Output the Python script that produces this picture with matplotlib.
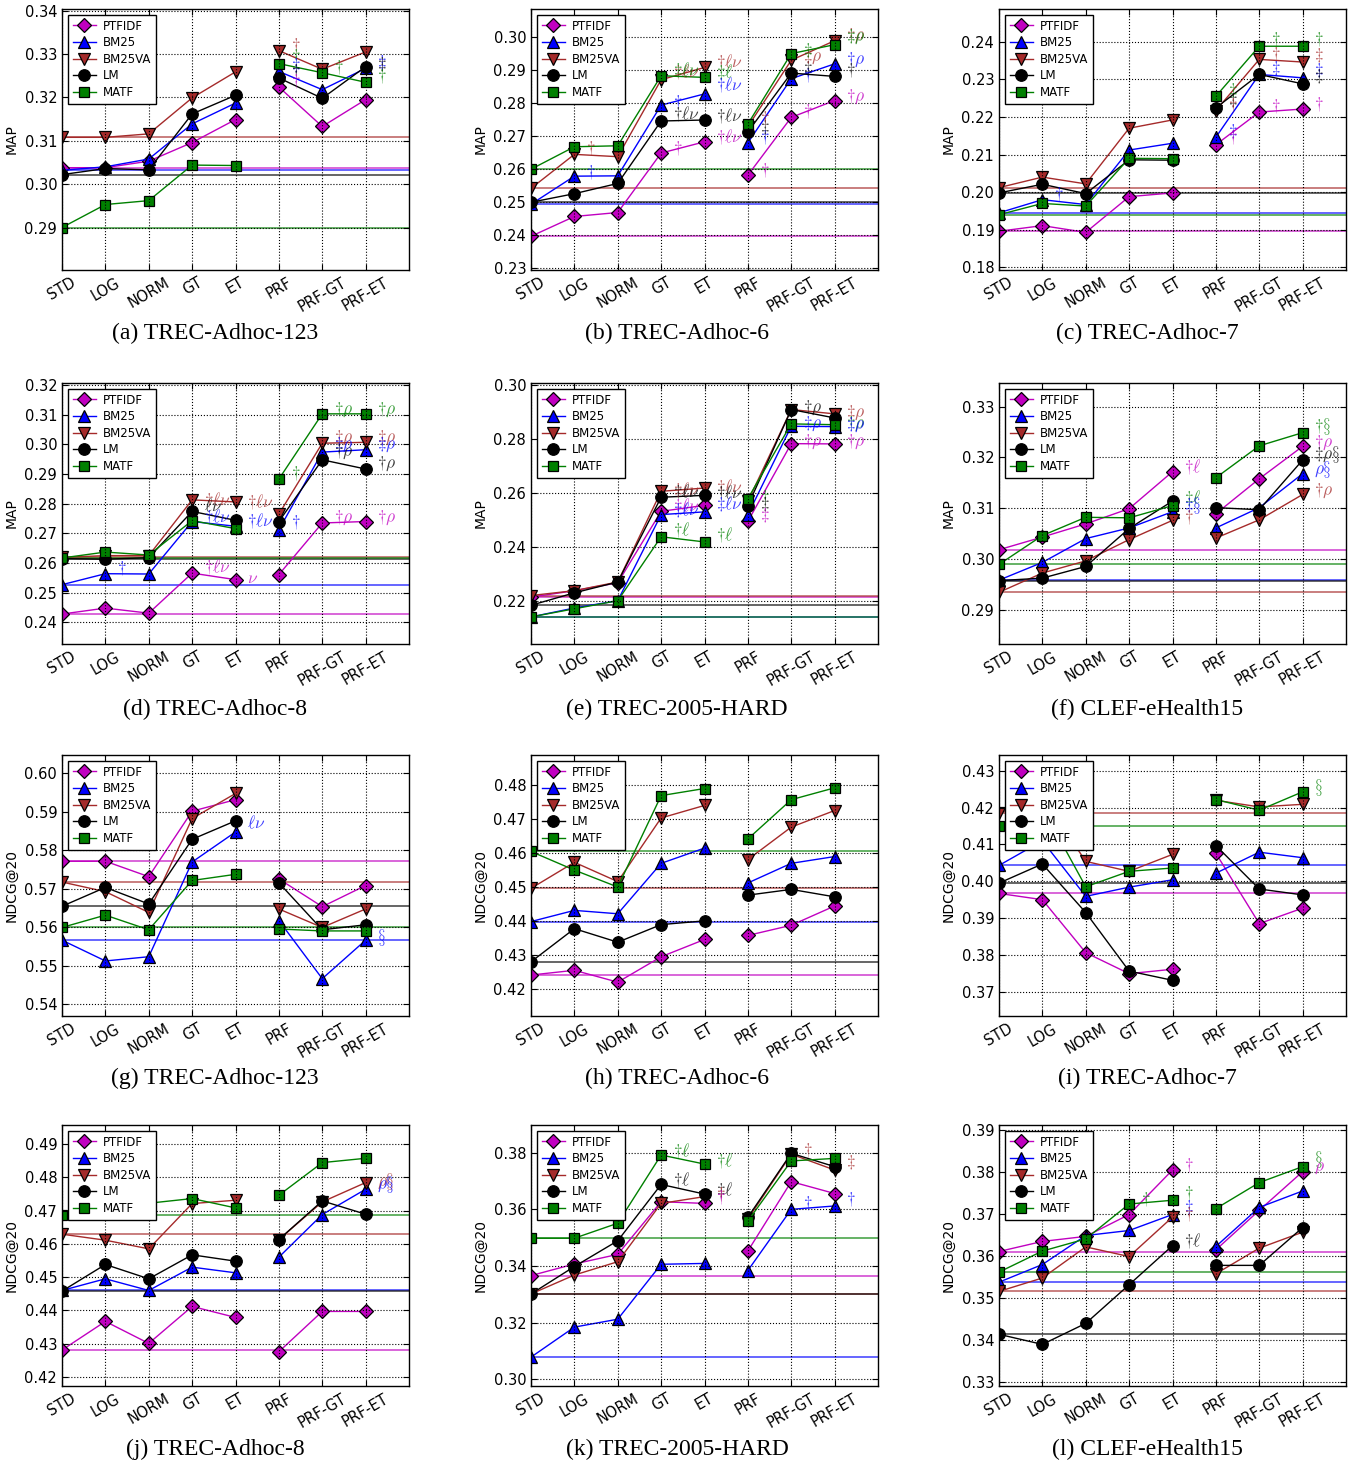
import matplotlib
matplotlib.use('Agg')
import matplotlib.pyplot as plt
from matplotlib.ticker import MultipleLocator, FormatStrFormatter
from matplotlib.lines import Line2D

categories = ['STD', 'LOG', 'NORM', 'GT', 'ET', 'PRF', 'PRF-GT', 'PRF-ET']
methods = ['PTFIDF', 'BM25', 'BM25VA', 'LM', 'MATF']

# ---------------- data ----------------
a_vals = {
    'PTFIDF': [0.3038, 0.3038, 0.3053, 0.3096, 0.3149, 0.3224, 0.3133, 0.3195],
    'BM25':   [0.3032, 0.3040, 0.3058, 0.3139, 0.3187, 0.3260, 0.3218, 0.3267],
    'BM25VA': [0.3108, 0.3108, 0.3116, 0.3199, 0.3259, 0.3308, 0.3265, 0.3305],
    'LM':     [0.3022, 0.3036, 0.3033, 0.3162, 0.3205, 0.3245, 0.3198, 0.3271],
    'MATF':   [0.2900, 0.2953, 0.2962, 0.3044, 0.3043, 0.3278, 0.3257, 0.3235],
}
b_vals = {
    'PTFIDF': [0.2397, 0.2457, 0.2469, 0.2649, 0.2683, 0.2582, 0.2757, 0.2808],
    'BM25':   [0.2494, 0.2579, 0.2580, 0.2794, 0.2828, 0.2680, 0.2874, 0.2919],
    'BM25VA': [0.2542, 0.2645, 0.2638, 0.2871, 0.2908, 0.2729, 0.2930, 0.2989],
    'LM':     [0.2500, 0.2526, 0.2557, 0.2746, 0.2749, 0.2713, 0.2891, 0.2881],
    'MATF':   [0.2600, 0.2668, 0.2671, 0.2883, 0.2878, 0.2737, 0.2950, 0.2977],
}
c_vals = {
    'PTFIDF': [0.1896, 0.1911, 0.1893, 0.1988, 0.1998, 0.2126, 0.2213, 0.2221],
    'BM25':   [0.1945, 0.1980, 0.1967, 0.2112, 0.2130, 0.2146, 0.2313, 0.2304],
    'BM25VA': [0.2012, 0.2040, 0.2022, 0.2170, 0.2192, 0.2217, 0.2353, 0.2346],
    'LM':     [0.1998, 0.2021, 0.1996, 0.2086, 0.2085, 0.2224, 0.2313, 0.2288],
    'MATF':   [0.1940, 0.1970, 0.1963, 0.2090, 0.2089, 0.2255, 0.2388, 0.2388],
}
d_vals = {
    'PTFIDF': [0.2428, 0.2448, 0.2431, 0.2566, 0.2544, 0.2561, 0.2735, 0.2740],
    'BM25':   [0.2527, 0.2564, 0.2563, 0.2740, 0.2724, 0.2712, 0.2974, 0.2982],
    'BM25VA': [0.2619, 0.2625, 0.2625, 0.2813, 0.2806, 0.2765, 0.3004, 0.3007],
    'LM':     [0.2615, 0.2613, 0.2618, 0.2774, 0.2744, 0.2740, 0.2948, 0.2917],
    'MATF':   [0.2617, 0.2637, 0.2627, 0.2743, 0.2716, 0.2883, 0.3103, 0.3103],
}
e_vals = {
    'PTFIDF': [0.2215, 0.2239, 0.2268, 0.2532, 0.2554, 0.2495, 0.2782, 0.2781],
    'BM25':   [0.2142, 0.2175, 0.2202, 0.2520, 0.2530, 0.2520, 0.2846, 0.2845],
    'BM25VA': [0.2221, 0.2239, 0.2271, 0.2606, 0.2618, 0.2569, 0.2908, 0.2892],
    'LM':     [0.2185, 0.2231, 0.2271, 0.2584, 0.2591, 0.2553, 0.2908, 0.2877],
    'MATF':   [0.2142, 0.2172, 0.2202, 0.2438, 0.2419, 0.2579, 0.2855, 0.2852],
}
f_vals = {
    'PTFIDF': [0.3018, 0.3043, 0.3069, 0.3099, 0.3172, 0.3089, 0.3158, 0.3222],
    'BM25':   [0.2958, 0.2993, 0.3040, 0.3061, 0.3093, 0.3061, 0.3101, 0.3168],
    'BM25VA': [0.2934, 0.2972, 0.2996, 0.3038, 0.3076, 0.3041, 0.3077, 0.3127],
    'LM':     [0.2957, 0.2962, 0.2985, 0.3060, 0.3114, 0.3101, 0.3097, 0.3195],
    'MATF':   [0.2989, 0.3046, 0.3082, 0.3081, 0.3105, 0.3160, 0.3223, 0.3249],
}
g_vals = {
    'PTFIDF': [0.5771, 0.5771, 0.5731, 0.5901, 0.5931, 0.5725, 0.5653, 0.5708],
    'BM25':   [0.5566, 0.5512, 0.5523, 0.5769, 0.5847, 0.5617, 0.5466, 0.5566],
    'BM25VA': [0.5717, 0.5692, 0.5638, 0.5882, 0.5947, 0.5647, 0.5599, 0.5647],
    'LM':     [0.5654, 0.5703, 0.5660, 0.5828, 0.5876, 0.5715, 0.5593, 0.5606],
    'MATF':   [0.5599, 0.5631, 0.5593, 0.5721, 0.5737, 0.5595, 0.5590, 0.5590],
}
h_vals = {
    'PTFIDF': [0.4240, 0.4254, 0.4219, 0.4294, 0.4345, 0.4357, 0.4387, 0.4444],
    'BM25':   [0.4398, 0.4431, 0.4421, 0.4570, 0.4615, 0.4512, 0.4570, 0.4590],
    'BM25VA': [0.4496, 0.4573, 0.4516, 0.4704, 0.4741, 0.4581, 0.4677, 0.4726],
    'LM':     [0.4279, 0.4377, 0.4337, 0.4389, 0.4400, 0.4476, 0.4493, 0.4471],
    'MATF':   [0.4605, 0.4550, 0.4500, 0.4770, 0.4791, 0.4642, 0.4758, 0.4793],
}
i_vals = {
    'PTFIDF': [0.3967, 0.3950, 0.3806, 0.3749, 0.3761, 0.4076, 0.3885, 0.3927],
    'BM25':   [0.4043, 0.4110, 0.3959, 0.3984, 0.4004, 0.4022, 0.4079, 0.4064],
    'BM25VA': [0.4185, 0.4230, 0.4054, 0.4027, 0.4073, 0.4220, 0.4202, 0.4209],
    'LM':     [0.3995, 0.4047, 0.3915, 0.3756, 0.3731, 0.4097, 0.3979, 0.3963],
    'MATF':   [0.4149, 0.4200, 0.3985, 0.4027, 0.4036, 0.4222, 0.4193, 0.4243],
}
j_vals = {
    'PTFIDF': [0.4281, 0.4367, 0.4301, 0.4412, 0.4379, 0.4276, 0.4397, 0.4397],
    'BM25':   [0.4460, 0.4495, 0.4460, 0.4530, 0.4513, 0.4560, 0.4688, 0.4764],
    'BM25VA': [0.4629, 0.4611, 0.4585, 0.4721, 0.4731, 0.4613, 0.4726, 0.4784],
    'LM':     [0.4458, 0.4538, 0.4495, 0.4567, 0.4548, 0.4613, 0.4729, 0.4689],
    'MATF':   [0.4686, 0.4715, 0.4722, 0.4736, 0.4708, 0.4746, 0.4844, 0.4857],
}
k_vals = {
    'PTFIDF': [0.3366, 0.3407, 0.3441, 0.3627, 0.3621, 0.3453, 0.3698, 0.3656],
    'BM25':   [0.3078, 0.3184, 0.3212, 0.3406, 0.3409, 0.3384, 0.3600, 0.3612],
    'BM25VA': [0.3301, 0.3368, 0.3415, 0.3621, 0.3645, 0.3566, 0.3795, 0.3739],
    'LM':     [0.3301, 0.3398, 0.3489, 0.3688, 0.3654, 0.3572, 0.3798, 0.3751],
    'MATF':   [0.3498, 0.3498, 0.3551, 0.3792, 0.3760, 0.3559, 0.3771, 0.3780],
}
l_vals = {
    'PTFIDF': [0.3611, 0.3635, 0.3647, 0.3699, 0.3805, 0.3615, 0.3709, 0.3801],
    'BM25':   [0.3538, 0.3580, 0.3649, 0.3661, 0.3699, 0.3623, 0.3716, 0.3755],
    'BM25VA': [0.3516, 0.3548, 0.3622, 0.3599, 0.3693, 0.3558, 0.3619, 0.3657],
    'LM':     [0.3414, 0.3390, 0.3440, 0.3532, 0.3625, 0.3578, 0.3578, 0.3668],
    'MATF':   [0.3562, 0.3612, 0.3641, 0.3724, 0.3733, 0.3713, 0.3775, 0.3813],
}

# significance labels: (category index, y value, text, method)
D, DD = r'\dagger', r'\ddagger'
a_notes = [(5, 0.3322, D, 'BM25VA'), (5, 0.3295, D, 'MATF'), (5, 0.3274, DD, 'BM25'),
           (5, 0.3262, D, 'LM'), (5, 0.3237, D, 'PTFIDF'), (6, 0.3271, D, 'MATF'),
           (7, 0.3282, DD, 'BM25'), (7, 0.3278, DD, 'LM'), (7, 0.3249, D, 'MATF')]
b_notes = [(1, 0.2663, D, 'BM25VA'), (1, 0.2592, D, 'BM25'),
           (3, 0.2663, D, 'PTFIDF'), (3, 0.2805, D, 'BM25'), (3, 0.2770, D + r'\ell\nu', 'LM'),
           (3, 0.2897, D + r'\ell\nu', 'BM25VA'), (3, 0.2901, DD + r'\ell\nu', 'MATF'),
           (4, 0.2927, D + r'\ell\nu', 'BM25VA'), (4, 0.2896, DD + r'\ell', 'MATF'),
           (4, 0.2856, D + r'\ell\nu', 'BM25'), (4, 0.2764, D + r'\ell\nu', 'LM'),
           (4, 0.2699, D + r'\ell\nu', 'PTFIDF'),
           (5, 0.2597, D, 'PTFIDF'), (5, 0.2699, D, 'BM25'), (5, 0.2729, DD, 'LM'),
           (5, 0.2754, D, 'BM25VA'),
           (6, 0.2775, D, 'PTFIDF'), (6, 0.2885, D, 'BM25'), (6, 0.2905, DD, 'LM'),
           (6, 0.2940, DD + r'\rho', 'BM25VA'), (6, 0.2962, DD, 'MATF'),
           (7, 0.3005, D + r'\rho', 'BM25VA'), (7, 0.3000, DD + r'\rho', 'MATF'),
           (7, 0.2930, D + r'\rho', 'BM25'), (7, 0.2901, D, 'LM'), (7, 0.2818, D + r'\rho', 'PTFIDF')]
c_notes = [(1, 0.1994, D, 'BM25'),
           (5, 0.2272, DD, 'MATF'), (5, 0.2244, DD, 'LM'), (5, 0.2232, D, 'BM25VA'),
           (5, 0.2163, DD, 'BM25'), (5, 0.2146, D, 'PTFIDF'),
           (6, 0.2406, D, 'MATF'), (6, 0.2367, D, 'BM25VA'), (6, 0.2330, DD, 'BM25'),
           (6, 0.2230, D, 'PTFIDF'),
           (7, 0.2406, D, 'MATF'), (7, 0.2365, DD, 'BM25VA'), (7, 0.2325, DD, 'BM25'),
           (7, 0.2308, DD, 'LM'), (7, 0.2235, D, 'PTFIDF')]
d_notes = [(1, 0.2583, D, 'BM25'),
           (3, 0.2813, D + r'\ell\nu', 'BM25VA'), (3, 0.2790, r'\ell\nu', 'LM'),
           (3, 0.2757, D + r'\ell\nu', 'BM25'), (3, 0.2589, D + r'\ell\nu', 'PTFIDF'),
           (4, 0.2808, D + r'\ell\nu', 'BM25VA'), (4, 0.2744, D + r'\ell\nu', 'BM25'),
           (4, 0.2549, r'\nu', 'PTFIDF'),
           (5, 0.2903, D, 'MATF'), (5, 0.2740, D, 'BM25'),
           (6, 0.3117, D + r'\rho', 'MATF'), (6, 0.3021, DD + r'\rho', 'BM25VA'),
           (6, 0.3000, DD + r'\rho', 'BM25'), (6, 0.2975, D + r'\rho', 'LM'),
           (6, 0.2752, D + r'\rho', 'PTFIDF'),
           (7, 0.3118, D + r'\rho', 'MATF'), (7, 0.3021, DD + r'\rho', 'BM25VA'),
           (7, 0.3000, DD + r'\rho', 'BM25'), (7, 0.2934, D + r'\rho', 'LM'),
           (7, 0.2752, D + r'\rho', 'PTFIDF')]
e_notes = [(3, 0.2612, DD + r'\ell\nu', 'BM25VA'), (3, 0.2606, D + r'\ell\nu', 'LM'),
           (3, 0.2555, D + r'\ell\nu', 'PTFIDF'), (3, 0.2540, DD + r'\ell\nu', 'BM25'),
           (3, 0.2465, D + r'\ell', 'MATF'),
           (4, 0.2624, D + r'\ell\nu', 'BM25VA'), (4, 0.2600, D + r'\ell\nu', 'LM'),
           (4, 0.2560, DD + r'\ell\nu', 'BM25'), (4, 0.2448, D + r'\ell', 'MATF'),
           (5, 0.2585, D, 'MATF'), (5, 0.2560, DD, 'LM'), (5, 0.2520, DD, 'PTFIDF'),
           (6, 0.2915, D + r'\rho', 'LM'), (6, 0.2855, DD + r'\rho', 'BM25'),
           (6, 0.2788, D + r'\rho', 'PTFIDF'),
           (7, 0.2895, DD + r'\rho', 'BM25VA'), (7, 0.2855, D + r'\rho', 'MATF'),
           (7, 0.2850, DD + r'\rho', 'BM25'), (7, 0.2788, D + r'\rho', 'PTFIDF')]
f_notes = [(4, 0.3183, D + r'\ell', 'PTFIDF'), (4, 0.3122, DD + r'\ell', 'MATF'),
           (4, 0.3105, DD + r'\S', 'BM25'), (4, 0.3083, D, 'BM25VA'),
           (7, 0.3261, D + r'\S', 'MATF'), (7, 0.3230, D + r'\rho', 'PTFIDF'),
           (7, 0.3205, DD + r'\rho\S', 'LM'), (7, 0.3177, r'\rho\S', 'BM25'),
           (7, 0.3134, D + r'\rho', 'BM25VA')]
g_notes = [(4, 0.5870, r'\ell\nu', 'BM25'), (7, 0.5573, r'\S', 'BM25')]
h_notes = []
i_notes = [(7, 0.4256, r'\S', 'MATF')]
j_notes = [(7, 0.4787, r'\rho\S', 'BM25VA'), (7, 0.4778, r'\rho\S', 'BM25')]
k_notes = [(3, 0.3809, D + r'\ell', 'MATF'), (3, 0.3704, D + r'\ell', 'LM'),
           (4, 0.3774, D + r'\ell', 'MATF'), (4, 0.3671, DD + r'\ell', 'LM'),
           (4, 0.3655, D, 'BM25VA'), (4, 0.3642, D, 'PTFIDF'),
           (6, 0.3809, D, 'BM25VA'), (6, 0.3621, D, 'BM25'),
           (7, 0.3768, DD, 'BM25VA'), (7, 0.3635, D, 'BM25')]
l_notes = [(3, 0.3737, D, 'MATF'), (4, 0.3817, D, 'PTFIDF'), (4, 0.3751, D, 'MATF'),
           (4, 0.3716, DD, 'BM25'), (4, 0.3700, D, 'BM25VA'), (4, 0.3637, D + r'\ell', 'LM'),
           (7, 0.3829, r'\S', 'MATF'), (7, 0.3813, r'\rho', 'PTFIDF')]

captions = ['(a) TREC-Adhoc-123', '(b) TREC-Adhoc-6', '(c) TREC-Adhoc-7',
            '(d) TREC-Adhoc-8', '(e) TREC-2005-HARD', '(f) CLEF-eHealth15',
            '(g) TREC-Adhoc-123', '(h) TREC-Adhoc-6', '(i) TREC-Adhoc-7',
            '(j) TREC-Adhoc-8', '(k) TREC-2005-HARD', '(l) CLEF-eHealth15']

# ---------------- styling ----------------
styles = {
    'PTFIDF': dict(color='#c000c0', marker='D', ms=7.5),
    'BM25':   dict(color='#0000ff', marker='^', ms=8.8),
    'BM25VA': dict(color='#a52a2a', marker='v', ms=8.8),
    'LM':     dict(color='#000000', marker='o', ms=8.3),
    'MATF':   dict(color='#008000', marker='s', ms=7.5),
}

panels = [
    (a_vals, a_notes, 'MAP', (0.2802, 0.3404), 0.01),
    (b_vals, b_notes, 'MAP', (0.2295, 0.3085), 0.01),
    (c_vals, c_notes, 'MAP', (0.1793, 0.2487), 0.01),
    (d_vals, d_notes, 'MAP', (0.2327, 0.3207), 0.01),
    (e_vals, e_notes, 'MAP', (0.2042, 0.3006), 0.02),
    (f_vals, f_notes, 'MAP', (0.2832, 0.3347), 0.01),
    (g_vals, g_notes, 'NDCG@20', (0.5369, 0.6047), 0.01),
    (h_vals, h_notes, 'NDCG@20', (0.4119, 0.4890), 0.01),
    (i_vals, i_notes, 'NDCG@20', (0.3634, 0.4343), 0.01),
    (j_vals, j_notes, 'NDCG@20', (0.4173, 0.4957), 0.01),
    (k_vals, k_notes, 'NDCG@20', (0.2976, 0.3898), 0.02),
    (l_vals, l_notes, 'NDCG@20', (0.3291, 0.3912), 0.01),
]

plt.rcParams['font.family'] = ['DejaVu Sans']
plt.rcParams['mathtext.fontset'] = 'cm'

W, H = 1356, 1466
fig = plt.figure(figsize=(W / 100, H / 100), dpi=100)

col_left = [62, 531, 999]
col_center = [215, 677, 1147]
row_top = [9, 383, 755, 1125]
row_caption = [333, 709, 1078, 1449]
ax_w, ax_h = 347, 261

xs = list(range(len(categories)))
for p, (vals, notes, ylabel, ylim, step) in enumerate(panels):
    r, c = divmod(p, 3)
    left, top = col_left[c], row_top[r]
    ax = fig.add_axes([left / W, 1 - (top + ax_h) / H, ax_w / W, ax_h / H])
    ax.set_axisbelow(False)
    for m in methods:
        st = styles[m]
        v = vals[m]
        kw = dict(color=st['color'], lw=1.0, marker=st['marker'], ms=st['ms'],
                  mfc=st['color'], mec='black', mew=0.9, zorder=2)
        ax.plot(xs[:5], v[:5], **kw)
        ax.plot(xs[5:], v[5:], **kw)
        ax.axhline(v[0], color=st['color'], lw=1.3, alpha=0.65, zorder=1.5)
    for (ci, yv, txt, m) in notes:
        ax.text(ci + 0.27, yv, '$' + txt + '$', color=styles[m]['color'], alpha=0.75,
                fontsize=12.5, ha='left', va='center', zorder=3)
    ax.set_xlim(0, 8)
    ax.set_ylim(*ylim)
    ax.yaxis.set_major_locator(MultipleLocator(step))
    ax.yaxis.set_major_formatter(FormatStrFormatter('%.2f'))
    ax.set_xticks(xs)
    ax.set_xticklabels(categories, rotation=30, fontsize=10.5)
    ax.tick_params(axis='y', labelsize=10.5)
    ax.tick_params(direction='in', top=True, right=True, length=4, width=0.8)
    ax.grid(True, linestyle=':', color='black', linewidth=0.8)
    for s in ax.spines.values():
        s.set_linewidth(1.0)
    ax.set_ylabel(ylabel, fontsize=10)
    handles = [Line2D([], [], color=styles[m]['color'], lw=1.0, marker=styles[m]['marker'],
                      ms=styles[m]['ms'], mfc=styles[m]['color'], mec='black', mew=0.9)
               for m in methods]
    leg = ax.legend(handles, methods, loc='upper left', fontsize=8.5, numpoints=1,
                    fancybox=False, framealpha=1, edgecolor='black', handlelength=2.0,
                    handletextpad=0.6, labelspacing=0.3, borderpad=0.4)
    leg.get_frame().set_linewidth(1.0)
    fig.text(col_center[c] / W, 1 - row_caption[r] / H, captions[p], ha='center', va='center',
             fontsize=17, family='Liberation Serif')

fig.savefig('out.png', dpi=100)
